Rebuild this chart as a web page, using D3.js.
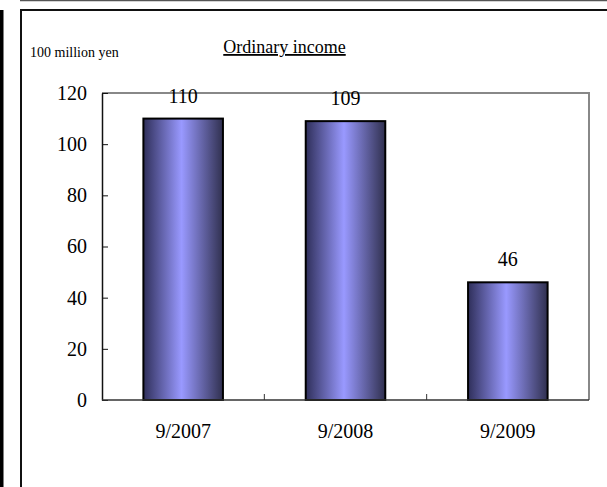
<!DOCTYPE html>
<html>
<head>
<meta charset="utf-8">
<script src="https://cdn.jsdelivr.net/npm/d3@7"></script>
<style>
  html, body { margin: 0; padding: 0; background: #fff; }
  svg { display: block; font-family: "Liberation Serif", "Times New Roman", serif; }
</style>
</head>
<body>
<svg width="607" height="487"></svg>
<script>
// data
const categories = ["9/2007", "9/2008", "9/2009"];
const values = [110, 109, 46];
const yTicks = [0, 20, 40, 60, 80, 100, 120];

const svg = d3.select("svg");

// page frame bits
svg.append("rect").attr("x", 0).attr("y", 10).attr("width", 3.5).attr("height", 477).attr("fill", "#000");
svg.append("line").attr("x1", 20).attr("x2", 607).attr("y1", 0.5).attr("y2", 0.5)
  .attr("stroke", "#555").attr("stroke-width", 1.5);
svg.append("path").attr("d", "M21,487V10H607")
  .attr("fill", "none").attr("stroke", "#111").attr("stroke-width", 2);

// plot area
const plotLeft = 102, plotRight = 589, plotTop = 93, plotBottom = 400;

const x = d3.scaleBand().domain(categories).range([plotLeft, plotRight])
  .paddingInner(0.51).paddingOuter(0.255);
const xCell = d3.scaleBand().domain(categories).range([plotLeft, plotRight]).padding(0);
const y = d3.scaleLinear().domain([0, 120]).range([plotBottom, plotTop]);

// gradient for bars
const grad = svg.append("defs").append("linearGradient")
  .attr("id", "barGrad").attr("x1", "0%").attr("x2", "100%").attr("y1", "0%").attr("y2", "0%");
grad.append("stop").attr("offset", "0%").attr("stop-color", "#2f2f5a");
grad.append("stop").attr("offset", "48%").attr("stop-color", "#9999ff");
grad.append("stop").attr("offset", "100%").attr("stop-color", "#30304f");

// gray border top/right
svg.append("path").attr("d", `M${plotLeft},${plotTop}H${plotRight}V${plotBottom}`)
  .attr("fill", "none").attr("stroke", "#888").attr("stroke-width", 2);

// bars
svg.selectAll("rect.bar")
  .data(values)
  .join("rect")
  .attr("class", "bar")
  .attr("x", (d, i) => x(categories[i]))
  .attr("y", d => y(d))
  .attr("width", x.bandwidth())
  .attr("height", d => y(0) - y(d))
  .attr("fill", "url(#barGrad)")
  .attr("stroke", "#000")
  .attr("stroke-width", 2);

// value labels
svg.selectAll("text.val")
  .data(values)
  .join("text")
  .attr("class", "val")
  .attr("x", (d, i) => x(categories[i]) + x.bandwidth() / 2)
  .attr("y", d => y(d) - 16)
  .attr("text-anchor", "middle")
  .attr("font-size", 20)
  .text(d => d);

// y axis
const yAxis = d3.axisLeft(y).tickValues(yTicks).tickSizeInner(-6).tickSizeOuter(0).tickPadding(15);
const gy = svg.append("g").attr("transform", `translate(${plotLeft},0)`).call(yAxis);
gy.select(".domain").attr("stroke", "#111").attr("stroke-width", 1.5);
gy.selectAll(".tick line").attr("stroke", "#111");
gy.selectAll(".tick text").attr("font-size", 20).attr("font-family", "Liberation Serif, Times New Roman, serif").attr("fill", "#000");

// x axis
const gx = svg.append("g").attr("transform", `translate(0,${plotBottom})`);
gx.append("line").attr("x1", plotLeft).attr("x2", plotRight).attr("stroke", "#333").attr("stroke-width", 1.5);
gx.selectAll("line.sep")
  .data(categories.slice(1))
  .join("line")
  .attr("class", "sep")
  .attr("x1", d => xCell(d)).attr("x2", d => xCell(d))
  .attr("y1", 0).attr("y2", -6)
  .attr("stroke", "#333");
gx.selectAll("text")
  .data(categories)
  .join("text")
  .attr("x", d => xCell(d) + xCell.bandwidth() / 2)
  .attr("y", 38)
  .attr("text-anchor", "middle")
  .attr("font-size", 20)
  .text(d => d);

// titles
svg.append("text").attr("x", 284.5).attr("y", 53).attr("text-anchor", "middle")
  .attr("font-size", 18).attr("text-decoration", "underline").text("Ordinary income");
svg.append("text").attr("x", 30).attr("y", 57).attr("font-size", 14).text("100 million yen");
</script>
</body>
</html>
